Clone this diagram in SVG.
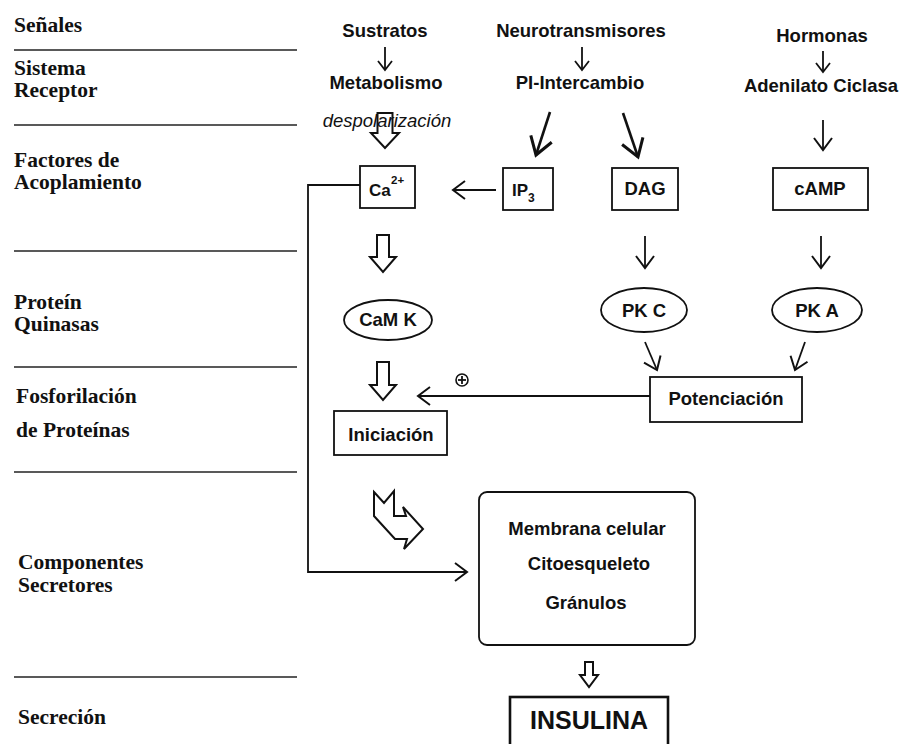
<svg xmlns="http://www.w3.org/2000/svg" width="902" height="744" viewBox="0 0 902 744">
<defs>
<style>
.lab{font-family:"Liberation Serif","Times New Roman",serif;font-weight:bold;font-size:21.5px;fill:#111}
.t{font-family:"Liberation Sans",Arial,sans-serif;font-weight:bold;font-size:18.5px;text-anchor:middle;fill:#111}
.it{font-family:"Liberation Sans",Arial,sans-serif;font-style:italic;font-size:18.5px;text-anchor:middle;fill:#111}
.sep{stroke:#222;stroke-width:1.3}
.box{fill:#fff;stroke:#111;stroke-width:1.8}
.ln{stroke:#111;stroke-width:1.8;fill:none}
.thick{stroke:#111;stroke-width:2.6;fill:none}
.hollow{fill:#fff;stroke:#111;stroke-width:2;stroke-linejoin:miter}
</style>
<marker id="ah" markerUnits="userSpaceOnUse" markerWidth="24" markerHeight="24" viewBox="-12 -12 24 24" refX="0" refY="0" orient="auto"><path d="M-9,-7 L0,0 L-9,7" fill="none" stroke="#111" stroke-width="1.8"/></marker>
<marker id="am" markerUnits="userSpaceOnUse" markerWidth="30" markerHeight="30" viewBox="-15 -15 30 30" refX="0" refY="0" orient="auto"><path d="M-12,-9 L0,0 L-12,9" fill="none" stroke="#111" stroke-width="2"/></marker>
<marker id="ab" markerUnits="userSpaceOnUse" markerWidth="40" markerHeight="40" viewBox="-20 -20 40 40" refX="0" refY="0" orient="auto"><path d="M-17,-11 L0,0 L-17,11" fill="none" stroke="#111" stroke-width="3"/></marker>
</defs>
<rect width="902" height="744" fill="#fff"/>

<g id="row-labels">
<text class="lab" x="14" y="32">Señales</text>
<text class="lab" x="14" y="75">Sistema</text>
<text class="lab" x="14" y="97">Receptor</text>
<text class="lab" x="14" y="167">Factores de</text>
<text class="lab" x="14" y="189">Acoplamiento</text>
<text class="lab" x="14" y="309">Proteín</text>
<text class="lab" x="14" y="331">Quinasas</text>
<text class="lab" x="16" y="403">Fosforilación</text>
<text class="lab" x="16" y="437">de Proteínas</text>
<text class="lab" x="18" y="569">Componentes</text>
<text class="lab" x="18" y="592">Secretores</text>
<text class="lab" x="18" y="724">Secreción</text>
</g>

<g id="separators">
<line class="sep" x1="14" y1="50" x2="297" y2="50"/>
<line class="sep" x1="14" y1="125" x2="297" y2="125"/>
<line class="sep" x1="14" y1="251" x2="297" y2="251"/>
<line class="sep" x1="14" y1="367" x2="297" y2="367"/>
<line class="sep" x1="14" y1="472" x2="297" y2="472"/>
<line class="sep" x1="14" y1="677" x2="297" y2="677"/>
</g>

<g id="signals">
<text class="t" x="385" y="37">Sustratos</text>
<text class="t" x="581" y="37">Neurotransmisores</text>
<text class="t" x="822" y="42">Hormonas</text>
</g>
<g id="receptors">
<text class="t" x="386" y="89">Metabolismo</text>
<text class="t" x="580" y="89">PI-Intercambio</text>
<text class="t" x="821" y="92">Adenilato Ciclasa</text>
</g>
<text class="it" x="387" y="127">despolarización</text>

<g id="connectors">
<line class="ln" x1="385" y1="47" x2="385" y2="70" marker-end="url(#ah)"/>
<line class="ln" x1="582" y1="47" x2="582" y2="70" marker-end="url(#ah)"/>
<line class="ln" x1="823" y1="51" x2="823" y2="72" marker-end="url(#ah)"/>
<line class="thick" x1="550" y1="112" x2="536" y2="155" marker-end="url(#ab)"/>
<line class="thick" x1="623" y1="113" x2="638" y2="157" marker-end="url(#ab)"/>
<line class="ln" x1="823" y1="120" x2="823" y2="150" marker-end="url(#am)"/>
<line class="ln" x1="496" y1="190" x2="453" y2="190" marker-end="url(#am)"/>
<polyline class="ln" points="360,185 308,185 308,572 467,572" marker-end="url(#am)"/>
<line class="ln" x1="645" y1="236" x2="645" y2="268" marker-end="url(#am)"/>
<line class="ln" x1="821" y1="236" x2="821" y2="268" marker-end="url(#am)"/>
<line class="ln" x1="645" y1="342" x2="657" y2="370" marker-end="url(#am)"/>
<line class="ln" x1="805" y1="342" x2="795" y2="370" marker-end="url(#am)"/>
<line class="ln" x1="650" y1="396" x2="418" y2="396" marker-end="url(#am)"/>
<circle cx="462" cy="380" r="6" fill="#fff" stroke="#111" stroke-width="1.6"/>
<line class="ln" x1="458" y1="380" x2="466" y2="380" stroke-width="1.5"/>
<line class="ln" x1="462" y1="376" x2="462" y2="384" stroke-width="1.5"/>
<path class="hollow" style="fill:none" d="M377.5,113 L392.5,113 L392.5,133 L399,133 L385,148 L371,133 L377.5,133 Z"/>
<path class="hollow" d="M377,235 L389,235 L389,257 L396,257 L383,272 L370,257 L377,257 Z"/>
<path class="hollow" d="M377,362 L389,362 L389,385 L396,385 L383,400 L370,385 L377,385 Z"/>
<path class="hollow" d="M374,492 L384,503 L394,491 L394,516 L406,516 L403,507 L423,529 L404,549 L407,539 L395,539 L374,516 Z"/>
<path class="hollow" d="M585,662 L593,662 L593,675 L598,675 L589,687 L580,675 L585,675 Z"/>
</g>

<g id="node-ca">
<rect class="box" x="360" y="166" width="55" height="42"/>
<text class="t" x="369" y="196" style="text-anchor:start;font-size:17px">Ca</text>
<text class="t" x="391" y="184" style="text-anchor:start;font-size:11.5px">2+</text>
</g>
<g id="node-ip3">
<rect class="box" x="503" y="168" width="50" height="42"/>
<text class="t" x="512" y="196" style="text-anchor:start;font-size:17px">IP</text>
<text class="t" x="528" y="202" style="text-anchor:start;font-size:12px">3</text>
</g>
<g id="node-dag">
<rect class="box" x="612" y="168" width="66" height="42"/>
<text class="t" x="645" y="195">DAG</text>
</g>
<g id="node-camp">
<rect class="box" x="773" y="168" width="95" height="42"/>
<text class="t" x="820" y="195">cAMP</text>
</g>
<g id="node-camk">
<ellipse class="box" cx="388" cy="320" rx="44" ry="20"/>
<text class="t" x="388" y="326">CaM K</text>
</g>
<g id="node-pkc">
<ellipse class="box" cx="644" cy="310" rx="43" ry="22"/>
<text class="t" x="644" y="317">PK C</text>
</g>
<g id="node-pka">
<ellipse class="box" cx="817" cy="310" rx="45" ry="22"/>
<text class="t" x="817" y="317">PK A</text>
</g>
<g id="node-potenciacion">
<rect class="box" x="650" y="377" width="152" height="45"/>
<text class="t" x="726" y="405">Potenciación</text>
</g>
<g id="node-iniciacion">
<rect class="box" x="334" y="411" width="113" height="44"/>
<text class="t" x="391" y="441">Iniciación</text>
</g>
<g id="node-componentes">
<rect class="box" x="479" y="492" width="216" height="153" rx="8"/>
<text class="t" x="587" y="535">Membrana celular</text>
<text class="t" x="589" y="570">Citoesqueleto</text>
<text class="t" x="586" y="609">Gránulos</text>
</g>
<g id="node-insulina">
<rect x="510" y="697" width="158" height="60" fill="#fff" stroke="#111" stroke-width="2.6"/>
<text class="t" x="589" y="729" style="font-size:25px">INSULINA</text>
</g>
</svg>
